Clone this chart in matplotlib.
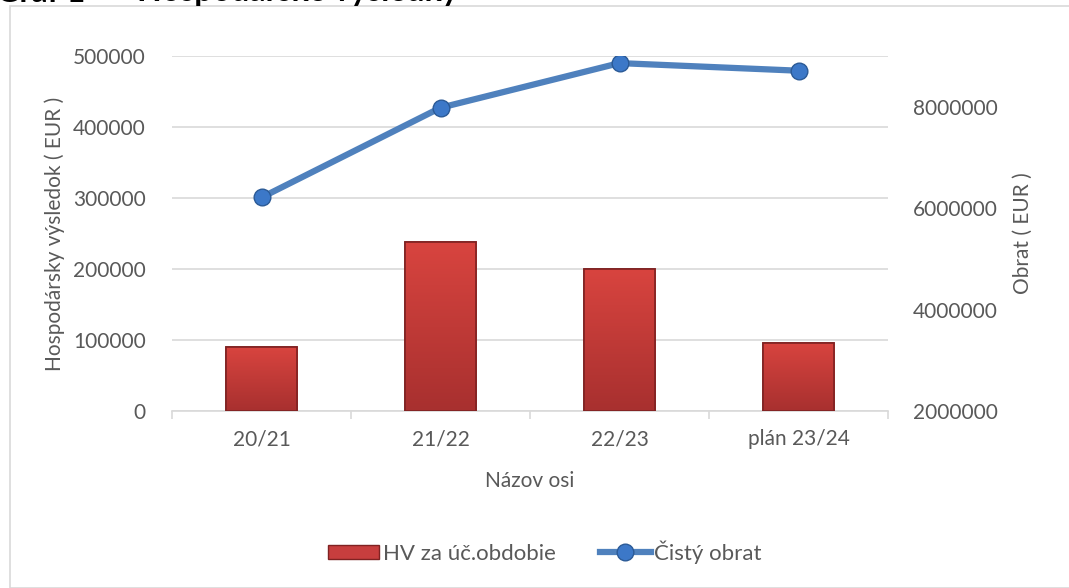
import numpy as np
import matplotlib
matplotlib.use("Agg")
import matplotlib.pyplot as plt
from matplotlib.patches import Rectangle, Patch
from matplotlib.lines import Line2D

# data
categories = ["20/21", "21/22", "22/23", "plán 23/24"]
hv_values = [90000, 238000, 200000, 96000]
obrat_values = [6210000, 7980000, 8860000, 8710000]
left_ticks = [0, 100000, 200000, 300000, 400000, 500000]
right_ticks = [2000000, 4000000, 6000000, 8000000]

plt.rcParams['font.family'] = ['Lato', 'DejaVu Sans']
grey = '#595959'
fs = 15

fig = plt.figure(figsize=(10.69, 5.88), dpi=100)
W, H = 1069, 588

# outer chart border
fig.patches.append(Rectangle((10 / W, 0), 1.2, (H - 6) / H, transform=fig.transFigure,
                             fill=False, edgecolor='#d9d9d9', lw=1.2))
# title, mostly cut off by the top edge like in the source
fig.text(-4 / W, 1.0 - 1.5 / H, "Graf 1", fontsize=23, fontweight='bold',
         color='black', ha='left', va='baseline')
fig.text(137 / W, 1.0 - 1.5 / H, "Hospodárske výsledky", fontsize=23, fontweight='bold',
         color='black', ha='left', va='baseline')

ax = fig.add_axes([172 / W, 1 - 411 / H, (888 - 172) / W, (411 - 56) / H])
x = np.arange(len(categories))

# bars: dark rim, then a vertical gradient clipped to each bar
bars = ax.bar(x, hv_values, width=0.4, color='#c0504d', edgecolor='#7f2222',
              linewidth=1.2, zorder=3)
grad = np.linspace(0, 1, 100).reshape(-1, 1)
cmap = matplotlib.colors.LinearSegmentedColormap.from_list('r', ['#a8302f', '#d8443f'])
for b in bars:
    bx, by = b.get_x(), b.get_y()
    bw, bh = b.get_width(), b.get_height()
    im = ax.imshow(grad, extent=[bx, bx + bw, by, by + bh], origin='lower',
                   aspect='auto', cmap=cmap, zorder=3.5)
    im.set_clip_path(b)
    ax.add_patch(Rectangle((bx, by), bw, bh, fill=False, edgecolor='#7f2222',
                           lw=1.2, zorder=3.6))

ax.set_ylim(0, 500000)
ax.set_xlim(-0.5, len(categories) - 0.5)
ax.set_yticks(left_ticks)
ax.set_yticklabels([str(v) for v in left_ticks])
ax.set_xticks(x)
ax.set_xticklabels(categories)
ax.yaxis.grid(True, color='#d9d9d9', lw=1.2, zorder=0)
ax.set_axisbelow(True)
for s in ['top', 'right', 'left']:
    ax.spines[s].set_visible(False)
ax.spines['bottom'].set_color('#d9d9d9')
ax.spines['bottom'].set_linewidth(1.2)
ax.tick_params(axis='y', length=0, pad=19, labelsize=fs, labelcolor=grey)
ax.tick_params(axis='x', length=0, pad=13, labelsize=fs, labelcolor=grey)
# category boundary ticks
ax.set_xticks(np.arange(-0.5, len(categories), 1.0), minor=True)
ax.tick_params(axis='x', which='minor', length=6, color='#d9d9d9', width=1.2)

ax.set_xlabel("Názov osi", fontsize=fs, color=grey, labelpad=16)
ax.set_ylabel("Hospodársky výsledok ( EUR )", fontsize=fs, color=grey, labelpad=6)

ax2 = ax.twinx()
ax2.set_ylim(2000000, 9000000)
ax2.set_yticks(right_ticks)
ax2.set_yticklabels([str(v) for v in right_ticks])
for s in ax2.spines.values():
    s.set_visible(False)
ax2.tick_params(axis='y', length=0, pad=18, labelsize=fs, labelcolor=grey)
ax2.set_ylabel("Obrat ( EUR )", fontsize=fs, color=grey, labelpad=11)

ax2.plot(x, obrat_values, color='#4f81bd', lw=4.5, solid_capstyle='round', zorder=4)
ax2.plot(x, obrat_values, 'o', ms=12, color='#3c78c8', mec='#2b5a96', mew=1, zorder=5)

handles = [Patch(facecolor='#c73e3e', edgecolor='#7f2222'),
           Line2D([0], [0], color='#4f81bd', lw=4.5, marker='o', ms=12,
                  mfc='#3c78c8', mec='#2b5a96')]
fig.legend(handles, ["HV za úč.obdobie", "Čistý obrat"], loc='center',
           bbox_to_anchor=(545 / W, 1 - 552 / H), ncol=2, frameon=False,
           fontsize=16, labelcolor=grey, handlelength=2.3, handleheight=0.6,
           handletextpad=0.15, columnspacing=2.0)

fig.savefig("out.png", dpi=100)
